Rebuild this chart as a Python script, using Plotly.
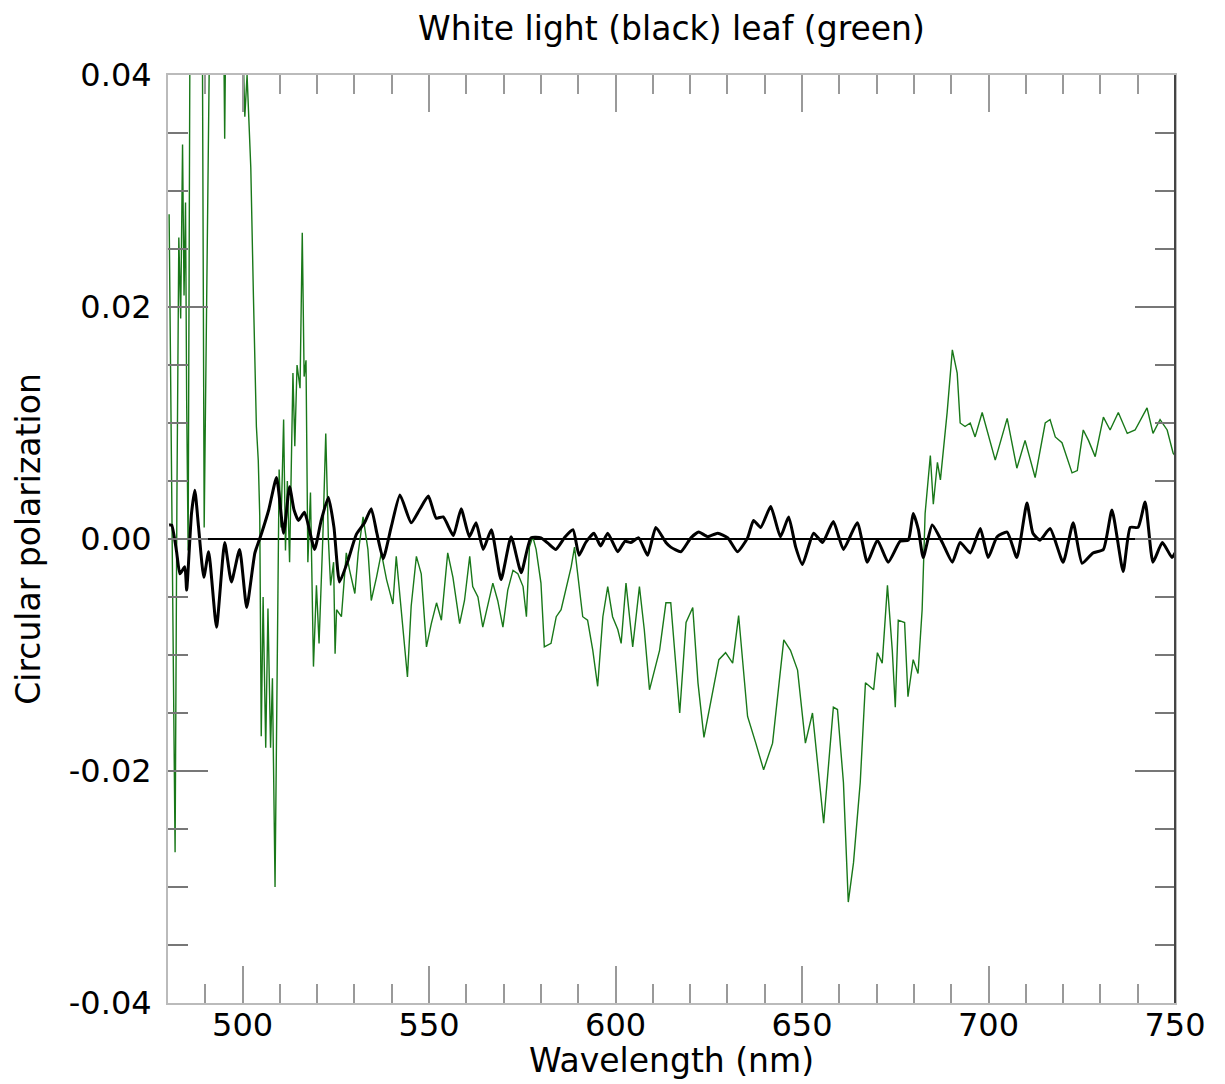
import plotly.graph_objects as go

# ---- data ----
# green (leaf), three wavelength segments
green_nm_a = [480.3, 480.8, 481.3, 481.9, 482.4, 482.9, 483.4, 483.9, 484.3, 484.7, 485.0, 485.4, 485.9,
              489.2, 489.7, 490.6, 491.2, 494.9, 495.2, 495.5, 499.9, 500.6, 501.2, 501.7, 502.2, 502.9,
              503.7, 504.2, 504.6, 505.0, 505.5, 506.2, 506.8, 507.5, 508.0, 508.7, 509.3, 509.8, 510.3,
              511.0, 511.5, 512.0, 512.6, 513.5, 514.0, 514.6, 515.4, 516.0, 516.5, 517.0, 517.5, 518.2,
              519.0, 519.8, 520.5, 521.5, 522.3, 523.0, 523.6, 524.4]
green_val_a = [0.028, 0.012, -0.008, -0.027, 0.004, 0.026, 0.019, 0.034, 0.021, 0.029, 0.012, -0.001, 0.045,
               0.045, 0.001, 0.033, 0.045, 0.045, 0.0345, 0.045, 0.045, 0.0364, 0.040, 0.036, 0.032, 0.021,
               0.0097, 0.0068, 0.002, -0.017, -0.005, -0.018, -0.006, -0.018, -0.012, -0.030, -0.012, 0.006, 0.001,
               0.0103, -0.001, 0.005, -0.002, 0.0143, 0.008, 0.015, 0.013, 0.0264, 0.014, 0.0154, -0.002, 0.004,
               -0.011, -0.004, -0.009, 0.000, 0.0091, 0.000, -0.004, -0.002]

green_nm_b = [524.8, 525.2, 526.5, 527.8, 528.7, 530.1, 531.0, 532.3, 533.6, 534.5, 535.9, 537.2, 538.6,
              540.3, 541.2, 542.6, 544.2, 545.2, 546.6, 547.9, 549.3, 550.6, 552.0, 553.3, 555.0, 556.4,
              558.2, 559.5, 560.9, 561.7, 563.1, 564.4, 565.8, 567.1, 568.4, 569.8, 571.1, 572.5, 573.8,
              575.2, 576.1, 576.9, 577.8, 578.7, 580.0, 580.9, 582.7, 584.1, 585.4, 586.7, 588.1, 589.0,
              589.9, 591.2, 592.5, 593.9, 595.2, 596.6, 597.9, 599.2, 600.6, 601.5, 602.8, 604.6, 606.4,
              607.7, 609.1, 610.4, 611.8]
green_val_b = [-0.0099, -0.0061, -0.0067, -0.0012, -0.0027, -0.0047, -0.0012, 0.0019, -0.0009, -0.0053, -0.0033, -0.0012, -0.0035,
               -0.0056, -0.0015, -0.0064, -0.0119, -0.0058, -0.0015, -0.0030, -0.0093, -0.0073, -0.0055, -0.0070, -0.0012, -0.0033,
               -0.0073, -0.0053, -0.0015, -0.0041, -0.0050, -0.0076, -0.0055, -0.0038, -0.0053, -0.0076, -0.0044, -0.0027, -0.0030,
               -0.0041, -0.0067, -0.0007, 0.0002, -0.0009, -0.0038, -0.0093, -0.0090, -0.0067, -0.0061, -0.0044, -0.0024, -0.0007,
               -0.0033, -0.0067, -0.0070, -0.0096, -0.0127, -0.0067, -0.0041, -0.0067, -0.0078, -0.0090, -0.0038, -0.0093, -0.0041,
               -0.0078, -0.0130, -0.0113, -0.0096]

green_nm_c = [613.5, 614.8, 617.2, 618.9, 620.7, 622.1, 623.7, 627.7, 629.5, 631.4, 633.0, 635.4, 637.6,
              639.7, 642.1, 645.1, 646.9, 648.8, 650.9, 652.8, 655.8, 658.4, 659.5, 661.1, 662.4, 663.8,
              665.6, 667.0, 669.2, 670.2, 671.5, 672.9, 674.2, 675.0, 675.8, 677.5, 678.4, 679.8, 681.1,
              682.2, 683.0, 684.4, 685.2, 686.3, 687.1, 688.9, 690.3, 691.6, 692.4, 693.7, 695.1, 696.4,
              698.3, 699.6, 701.8, 705.0, 707.6, 709.8, 712.5, 715.2, 716.5, 717.9, 719.7, 722.4, 723.8,
              725.4, 726.8, 728.6, 730.8, 732.6, 734.8, 737.2, 739.3, 742.5, 744.1, 746.0, 747.9, 749.5, 750.0]
green_val_c = [-0.0055, -0.0055, -0.0150, -0.0072, -0.0059, -0.0124, -0.0171, -0.0104, -0.0098, -0.0107, -0.0066, -0.0153, -0.0176,
               -0.0199, -0.0176, -0.0087, -0.0096, -0.0113, -0.0176, -0.0150, -0.0245, -0.0145, -0.0147, -0.0210, -0.0313, -0.0279,
               -0.0210, -0.0124, -0.0130, -0.0098, -0.0107, -0.0040, -0.0096, -0.0145, -0.0070, -0.0072, -0.0136, -0.0104, -0.0116,
               -0.0061, 0.0022, 0.0072, 0.0030, 0.0066, 0.0051, 0.0109, 0.0163, 0.0143, 0.0100, 0.0097, 0.0100, 0.0088,
               0.0109, 0.0094, 0.0068, 0.0104, 0.0061, 0.0085, 0.0053, 0.0100, 0.0103, 0.0088, 0.0083, 0.0057, 0.0059,
               0.0094, 0.0085, 0.0071, 0.0105, 0.0094, 0.0109, 0.0091, 0.0094, 0.0113, 0.0091, 0.0103, 0.0094, 0.0074, 0.0072]

# black (white light)
black_nm = [480.3, 481.0, 482.3, 483.2, 484.5, 485.0, 486.3, 487.2, 488.2, 489.6, 490.9, 493.0, 495.2, 497.0,
            499.2, 501.1, 503.3, 505.1, 507.0, 509.1, 511.0, 512.6, 513.8, 515.0, 516.6, 519.3, 521.0, 523.0,
            524.5, 526.0, 528.3, 530.5, 532.7, 534.5, 536.0, 537.7, 539.9, 542.2, 545.2, 547.4, 549.8, 551.9, 553.8,
            556.5, 558.6, 560.8, 562.6, 564.5, 566.7, 569.3, 572.0, 574.7, 577.3, 580.0, 582.0, 584.0, 586.5,
            588.6, 590.2, 592.0, 594.2, 596.0, 597.9, 600.6, 602.5, 604.1, 606.2, 608.6, 610.8, 613.5, 614.8,
            617.5, 620.2, 622.3, 624.7, 627.4, 630.1, 632.7, 635.4, 637.0, 638.9, 641.6, 644.2, 646.4, 648.3,
            650.1, 653.1, 655.5, 658.4, 661.1, 664.8, 667.5, 670.2, 673.1, 676.3, 678.5, 679.8, 681.2, 682.5,
            684.9, 687.6, 690.3, 692.4, 695.1, 697.8, 699.9, 702.3, 705.0, 707.6, 710.3, 711.9, 713.8, 716.5,
            720.0, 722.7, 725.1, 728.0, 730.8, 733.1, 736.1, 738.0, 740.1, 742.0, 744.1, 746.6, 749.2, 750.0]
black_val = [0.0012, 0.0012, -0.0011, -0.0030, -0.0024, -0.0044, 0.0022, 0.0042, 0.0010, -0.0033, -0.0011, -0.0076, -0.0003, -0.0037,
             -0.0009, -0.0059, -0.0012, 0.0005, 0.0025, 0.0053, 0.0005, 0.0045, 0.0025, 0.0016, 0.0023, -0.0009, 0.0015, 0.0036,
             0.0010, -0.0037, -0.0018, 0.0004, 0.0014, 0.0026, 0.0005, -0.0017, 0.0011, 0.0038, 0.0014, 0.0025, 0.0037, 0.0018, 0.0019,
             0.0003, 0.0026, 0.0002, 0.0014, -0.0009, 0.0008, -0.0035, 0.0002, -0.0029, 0.0001, 0.0001, -0.0004, -0.0009, 0.0002,
             0.0008, -0.0014, -0.0003, 0.0005, -0.0006, 0.0005, -0.0011, -0.0002, -0.0003, 0.0001, -0.0014, 0.0010, -0.0003, -0.0007,
             -0.0011, 0.0001, 0.0006, 0.0002, 0.0005, 0.0001, -0.0011, 0.0001, 0.0016, 0.0010, 0.0028, 0.0002, 0.0019, -0.0007,
             -0.0022, 0.0005, -0.0003, 0.0015, -0.0009, 0.0014, -0.0020, -0.0001, -0.0020, -0.0002, -0.0001, 0.0022, 0.0008, -0.0016,
             0.0012, -0.0003, -0.0020, -0.0003, -0.0012, 0.0009, -0.0016, 0.0002, 0.0006, -0.0016, 0.0031, 0.0005, -0.0001, 0.0009,
             -0.0020, 0.0014, -0.0021, -0.0012, -0.0009, 0.0025, -0.0028, 0.0010, 0.0010, 0.0032, -0.0020, -0.0003, -0.0016, -0.0012]

x_ticks = [500, 550, 600, 650, 700, 750]
y_ticks = [-0.04, -0.02, 0.0, 0.02, 0.04]
y_tick_labels = ["-0.04", "-0.02", "0.00", "0.02", "0.04"]

assert len(green_nm_a) == len(green_val_a)
assert len(green_nm_b) == len(green_val_b)
assert len(green_nm_c) == len(green_val_c)
assert len(black_nm) == len(black_val)

green_nm = green_nm_a + green_nm_b + green_nm_c
green_val = green_val_a + green_val_b + green_val_c

FONT = "DejaVu Sans"
FS_TICK = 32
FS_TITLE = 33

W, H = 1225, 1084
ML, MR, MT, MB = 168, 50, 75, 81
PLOT_H = H - MT - MB

fig = go.Figure()
fig.add_trace(go.Scatter(x=green_nm, y=green_val, mode="lines",
                         line=dict(color="rgb(25,120,25)", width=1.4), showlegend=False))
fig.add_trace(go.Scatter(x=black_nm, y=black_val, mode="lines",
                         line=dict(color="black", width=3, shape="spline", smoothing=0.5), showlegend=False))

fig.update_layout(
    width=W, height=H,
    margin=dict(l=ML, r=MR, t=MT, b=MB, autoexpand=False),
    paper_bgcolor="white", plot_bgcolor="white",
    font=dict(family=FONT, color="black"),
    title=dict(text="White light (black) leaf (green)", x=671.5 / W, xanchor="center",
               y=1 - 28 / H, yanchor="middle", yref="container",
               font=dict(size=FS_TITLE, family=FONT, color="black")),
    shapes=[dict(type="line", xref="paper", yref="paper", x0=1, x1=1, y0=0, y1=1,
                 line=dict(color="#444", width=2))],
    annotations=[dict(text="Wavelength (nm)", xref="paper", yref="paper", x=0.5, y=-57 / PLOT_H,
                      xanchor="center", yanchor="middle", showarrow=False,
                      font=dict(size=FS_TITLE, family=FONT, color="black"))],
)
fig.update_xaxes(
    range=[480, 750], tickvals=x_ticks, ticks="inside", ticklen=37, tickwidth=2,
    tickcolor="#999", showline=True, linecolor="#bbb", linewidth=2, mirror="ticks",
    showgrid=False, zeroline=False, tickfont=dict(size=FS_TICK, family=FONT), automargin=False,
    ticklabelstandoff=-7,
    minor=dict(dtick=10, tick0=480, ticks="inside", ticklen=19, tickwidth=2, tickcolor="#999", showgrid=False),
)
fig.update_yaxes(
    range=[-0.04, 0.04], tickvals=y_ticks, ticktext=y_tick_labels, ticks="inside", ticklen=40, tickwidth=2,
    tickcolor="#777", showline=True, linecolor="#bbb", linewidth=2, mirror="ticks",
    showgrid=False, zeroline=True, zerolinecolor="black", zerolinewidth=1.6,
    tickfont=dict(size=FS_TICK, family=FONT), ticklabelstandoff=8, automargin=False,
    minor=dict(dtick=0.005, tick0=0, ticks="inside", ticklen=20, tickwidth=2, tickcolor="#777", showgrid=False),
    title=dict(text="Circular polarization", font=dict(size=FS_TITLE, family=FONT), standoff=18),
)

# remove the browser's default 8px body margin so the figure fills the window exactly
fig.write_html("out.html", config={"displayModeBar": False},
               post_script="document.body.style.margin='0';")
